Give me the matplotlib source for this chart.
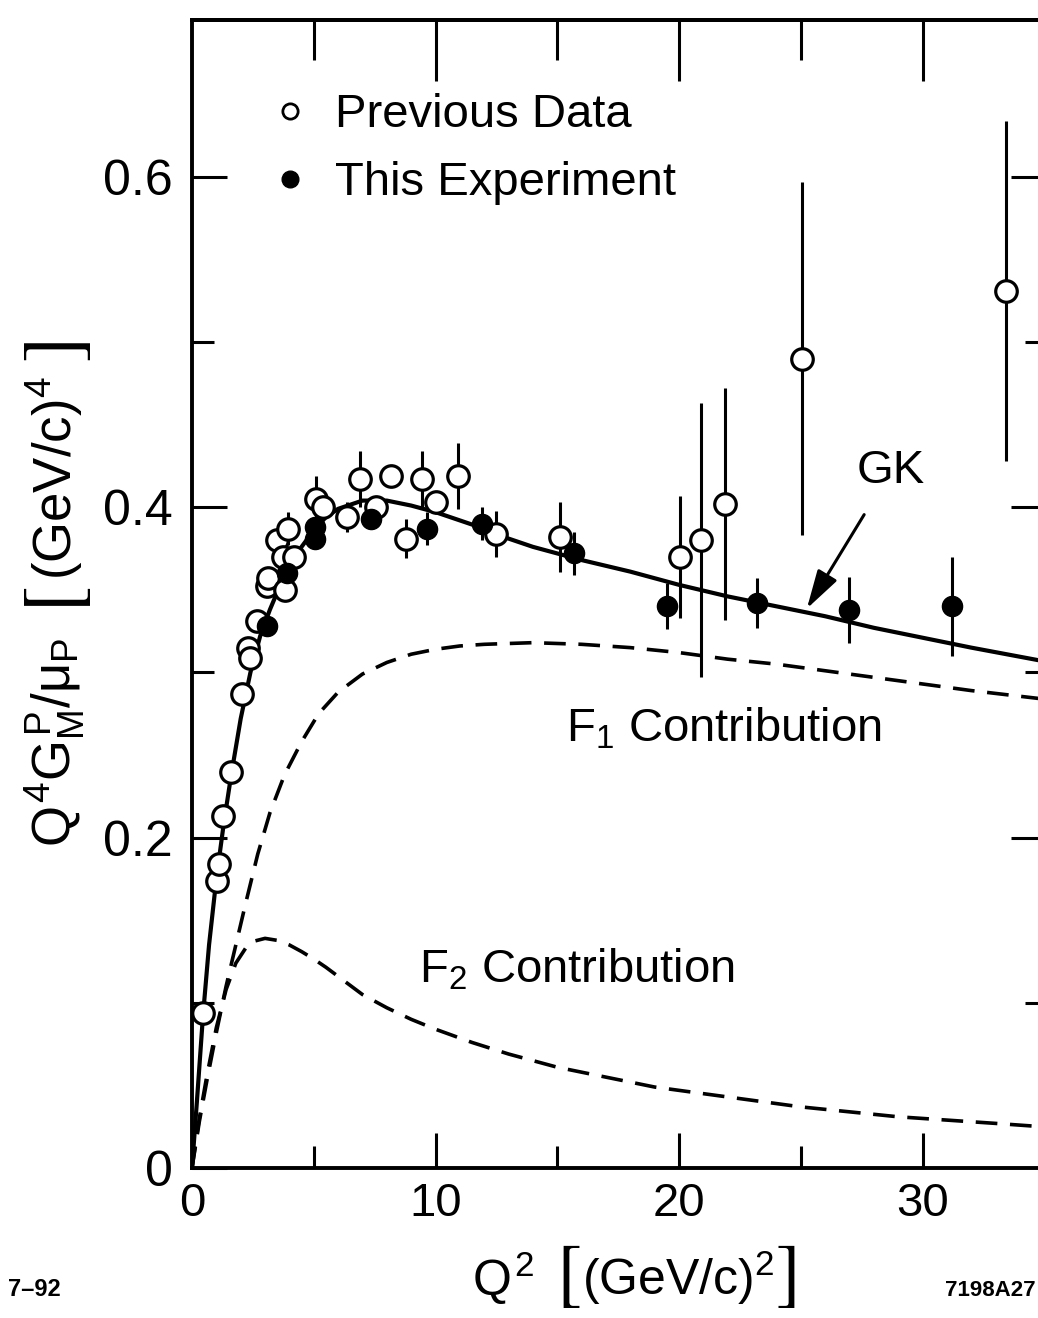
import numpy as np
import matplotlib
matplotlib.use("Agg")
import matplotlib.pyplot as plt
from matplotlib.lines import Line2D
from matplotlib.ticker import FixedLocator, FuncFormatter

plt.rcParams['font.family'] = ['Liberation Sans', 'DejaVu Sans']
plt.rcParams['mathtext.fontset'] = 'custom'
plt.rcParams['mathtext.rm'] = 'Liberation Sans'
plt.rcParams['mathtext.it'] = 'Liberation Sans'
plt.rcParams['mathtext.bf'] = 'Liberation Sans:bold'

# previous data (open circles): Q^2, value, error
prev_q2 = [0.45, 1.02, 1.1, 1.27, 1.6, 2.05, 2.3, 2.38, 2.66, 3.07, 3.12, 3.5, 3.73,
           3.8, 3.93, 4.2, 5.1, 5.37, 6.35, 6.89, 7.54, 8.16, 8.77, 9.43, 10.0,
           10.94, 12.5, 15.1, 20.05, 20.9, 21.9, 25.04, 33.44]
prev_val = [0.094, 0.174, 0.184, 0.213, 0.240, 0.287, 0.315, 0.309, 0.331, 0.352,
            0.357, 0.380, 0.370, 0.350, 0.387, 0.370, 0.405, 0.400, 0.394, 0.417,
            0.400, 0.419, 0.381, 0.417, 0.403, 0.419, 0.384, 0.382, 0.370, 0.380,
            0.402, 0.490, 0.531]
prev_err = [0, 0, 0, 0, 0, 0, 0, 0, 0, 0, 0, 0, 0, 0, 0.010, 0, 0.014, 0, 0.009,
            0.017, 0, 0, 0.012, 0.017, 0, 0.020, 0.014, 0.021, 0.037, 0.083, 0.070,
            0.107, 0.103]

# this experiment (filled circles)
this_q2 = [3.1, 3.9, 5.04, 5.04, 7.34, 9.67, 11.93, 15.7, 19.5, 23.2, 26.97, 31.2]
this_val = [0.328, 0.360, 0.388, 0.381, 0.393, 0.387, 0.390, 0.372, 0.340, 0.342,
            0.338, 0.340]
this_err = [0, 0, 0, 0, 0, 0.010, 0.010, 0.013, 0.014, 0.015, 0.020, 0.030]

# GK fit
gk_q2 = [0, 0.2, 0.45, 0.7, 1.0, 1.3, 1.6, 2.0, 2.4, 2.8, 3.2, 3.6, 4.0, 4.5, 5.0,
         5.5, 6.0, 7.0, 8.0, 9.0, 10.0, 11.0, 12.0, 13.0, 14.0, 16.0, 18.0, 20.0,
         22.0, 24.0, 26.0, 28.0, 30.0, 32.0, 34.9]
gk_val = [0, 0.040, 0.092, 0.135, 0.175, 0.208, 0.237, 0.272, 0.300, 0.322, 0.338,
          0.352, 0.364, 0.376, 0.386, 0.394, 0.399, 0.404, 0.404, 0.401, 0.397,
          0.392, 0.387, 0.381, 0.376, 0.368, 0.361, 0.353, 0.346, 0.340, 0.334,
          0.327, 0.321, 0.315, 0.307]

# F1 contribution
f1_q2 = [0, 0.3, 0.6, 1.0, 1.4, 1.8, 2.2, 2.7, 3.2, 3.8, 4.5, 5.2, 6.0, 7.0, 8.0,
         9.0, 10.0, 11.0, 12.0, 14.0, 16.0, 18.0, 20.0, 22.0, 24.0, 26.0, 28.0,
         30.0, 32.0, 34.9]
f1_val = [0, 0.028, 0.052, 0.082, 0.110, 0.135, 0.160, 0.190, 0.215, 0.238, 0.258,
          0.275, 0.288, 0.299, 0.306, 0.311, 0.314, 0.316, 0.317, 0.318, 0.317,
          0.315, 0.312, 0.308, 0.305, 0.301, 0.297, 0.293, 0.289, 0.284]

# F2 contribution
f2_q2 = [0, 0.3, 0.6, 1.0, 1.4, 1.8, 2.2, 2.6, 3.0, 3.5, 4.0, 4.5, 5.0, 5.5, 6.0,
         6.5, 7.0, 8.0, 9.0, 10.0, 11.5, 13.0, 15.0, 17.0, 19.0, 21.0, 23.0, 25.0,
         27.0, 29.0, 31.0, 33.0, 34.9]
f2_val = [0, 0.030, 0.055, 0.085, 0.108, 0.124, 0.133, 0.1375, 0.139, 0.1378,
          0.135, 0.131, 0.1265, 0.1215, 0.116, 0.1105, 0.105, 0.097, 0.090, 0.084,
          0.076, 0.069, 0.061, 0.055, 0.049, 0.045, 0.041, 0.037, 0.034, 0.031,
          0.029, 0.027, 0.025]

W, H = 1038, 1318


def px(x, y):
    # pixel position in the picture -> figure fraction
    return x / W, 1 - y / H


fig = plt.figure(figsize=(W / 100, H / 100), dpi=100)
ax = fig.add_axes([192 / W, 1 - 1168 / H, (1042 - 192) / W, (1168 - 20) / H])

ax.plot(f1_q2, f1_val, color='k', lw=2.6, dashes=(6, 3.5), zorder=2)
ax.plot(f2_q2, f2_val, color='k', lw=2.6, dashes=(6, 3.5), zorder=2)
ax.plot(gk_q2, gk_val, color='k', lw=3.0, zorder=3)

ax.errorbar(prev_q2, prev_val, yerr=prev_err, fmt='o', ms=15.5, mfc='white',
            mec='k', mew=2.3, ecolor='k', elinewidth=2.2, capsize=0, zorder=4)
ax.errorbar(this_q2, this_val, yerr=this_err, fmt='o', ms=14.5, mfc='k',
            mec='k', mew=1, ecolor='k', elinewidth=2.2, capsize=0, zorder=5)

ax.set_xlim(0, 850 / 24.35)
ax.set_ylim(0, 1148 / 1652)

for s in ax.spines.values():
    s.set_linewidth(2.8)

ax.xaxis.set_major_locator(FixedLocator([0, 10, 20, 30]))
ax.xaxis.set_minor_locator(FixedLocator([5, 15, 25]))
ax.yaxis.set_major_locator(FixedLocator([0, 0.2, 0.4, 0.6]))
ax.yaxis.set_minor_locator(FixedLocator([0.1, 0.3, 0.5]))
ax.yaxis.set_major_formatter(FuncFormatter(lambda v, p: '0' if v == 0 else f'{v:.1f}'))
ax.tick_params(which='both', direction='in', top=False, right=False, width=2.2)
ax.tick_params(which='major', length=25)
ax.tick_params(which='minor', length=16)
ax.tick_params(axis='x', which='major', labelsize=34, pad=10)
ax.tick_params(axis='y', which='major', labelsize=36, pad=14)

top = ax.secondary_xaxis('top')
top.xaxis.set_major_locator(FixedLocator([10, 20, 30]))
top.xaxis.set_minor_locator(FixedLocator([5, 15, 25]))
top.tick_params(which='both', direction='in', labeltop=False, width=2.2)
top.tick_params(which='major', length=44)
top.tick_params(which='minor', length=29)
top.spines['top'].set_linewidth(2.8)

right = ax.secondary_yaxis('right')
right.yaxis.set_major_locator(FixedLocator([0.2, 0.4, 0.6]))
right.yaxis.set_minor_locator(FixedLocator([0.1, 0.3, 0.5]))
right.tick_params(which='both', direction='in', labelright=False, width=2.2)
right.tick_params(which='major', length=22)
right.tick_params(which='minor', length=12)

# x axis title, with tall thin square brackets
fig.text(*px(503, 1278), r'$Q^2$', fontsize=36, ha='center', va='center')
fig.text(*px(568, 1276), r'$[$', fontsize=54, math_fontfamily='stix',
         ha='center', va='center')
fig.text(*px(678, 1278), r'(GeV/c)$^2$', fontsize=36, ha='center', va='center')
fig.text(*px(785, 1276), r'$]$', fontsize=54, math_fontfamily='stix',
         ha='center', va='center')

# y axis title, rotated
fig.text(*px(55, 742), r'$Q^4G_M^P/\mu_P$', fontsize=38, rotation=90,
         ha='center', va='center')
fig.text(*px(57, 600), r'$[$', fontsize=58, math_fontfamily='stix', rotation=90,
         ha='center', va='center')
fig.text(*px(55, 478), r'(GeV/c)$^4$', fontsize=38, rotation=90,
         ha='center', va='center')
fig.text(*px(57, 352), r'$]$', fontsize=58, math_fontfamily='stix', rotation=90,
         ha='center', va='center')

h1 = Line2D([], [], ls='none', marker='o', mfc='white', mec='k', ms=11, mew=2)
h2 = Line2D([], [], ls='none', marker='o', mfc='k', mec='k', ms=12)
ax.legend([h1, h2], ['Previous Data', 'This Experiment'], loc='upper left',
          bbox_to_anchor=(0.093, 0.936), frameon=False, fontsize=34,
          handlelength=0.8, handletextpad=0.55, labelspacing=0.5,
          borderaxespad=0, borderpad=0)

ax.annotate('GK', xy=(25.25, 0.3386), xytext=(28.7, 0.422), fontsize=34,
            ha='center', va='center',
            arrowprops=dict(arrowstyle='-|>,head_length=0.7,head_width=0.2',
                            color='k', lw=2.2, shrinkA=16, shrinkB=0))
ax.text(21.85, 0.266, r'F$_1$ Contribution', fontsize=34, ha='center', va='center')
ax.text(15.8, 0.120, r'F$_2$ Contribution', fontsize=34, ha='center', va='center')

fig.text(*px(8, 1290), '7–92', fontsize=17, fontweight='bold',
         ha='left', va='center')
fig.text(*px(1036, 1290), '7198A27', fontsize=16, fontweight='bold',
         ha='right', va='center')

fig.savefig('out.png', dpi=100)
